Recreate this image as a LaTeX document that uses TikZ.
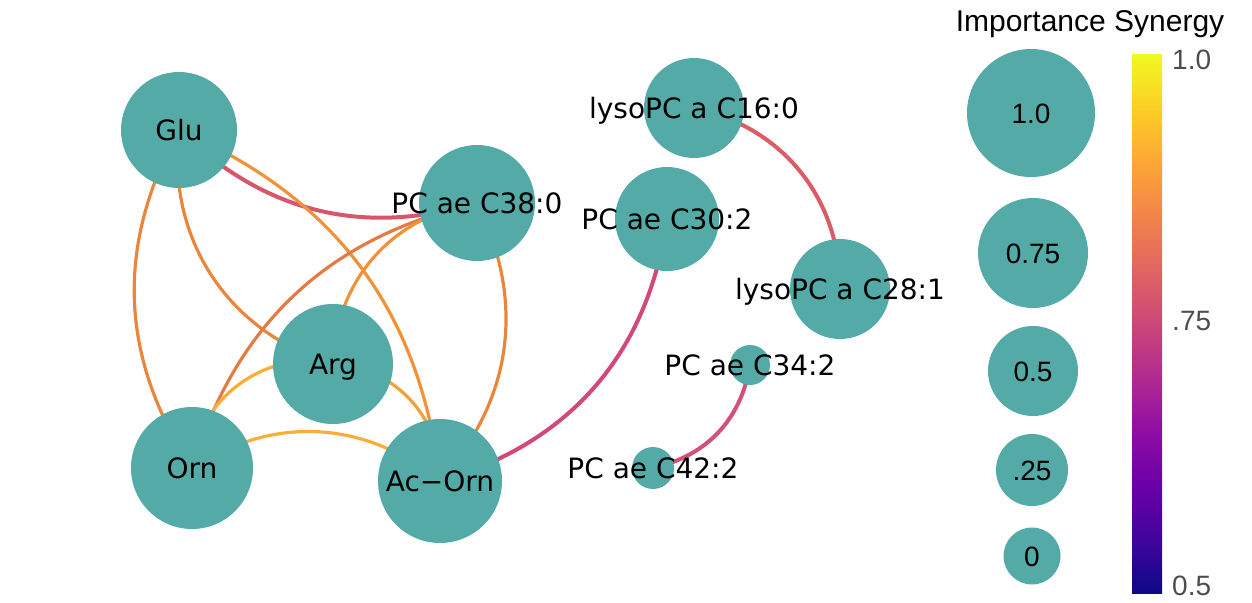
\documentclass[tikz,border=0pt]{standalone}
\usepackage{fontspec}
\setmainfont{DejaVu Sans}
\newfontfamily\legfont{Liberation Sans}
\pgfdeclarelayer{background}
\pgfsetlayers{background,main}
\definecolor{nodeteal}{RGB}{83,170,166}
\definecolor{cpink}{RGB}{214,86,108}
\definecolor{cmag}{RGB}{209,72,122}
\definecolor{cred}{RGB}{219,92,102}
\definecolor{cpink2}{RGB}{211,80,120}
\definecolor{corange}{RGB}{233,134,62}
\definecolor{corangeD}{RGB}{226,124,68}
\definecolor{corangeL}{RGB}{240,146,58}
\definecolor{cyel}{RGB}{248,174,56}
\definecolor{cyel2}{RGB}{241,160,60}
\definecolor{greytxt}{RGB}{77,77,77}
\definecolor{p0}{HTML}{0D0887}
\definecolor{p1}{HTML}{41049D}
\definecolor{p2}{HTML}{6A00A8}
\definecolor{p3}{HTML}{8F0DA4}
\definecolor{p4}{HTML}{B12A90}
\definecolor{p5}{HTML}{CC4778}
\definecolor{p6}{HTML}{E16462}
\definecolor{p7}{HTML}{F2844B}
\definecolor{p8}{HTML}{FCA636}
\definecolor{p9}{HTML}{FCCE25}
\definecolor{p10}{HTML}{F0F921}
\pgfdeclareverticalshading{plasma}{100bp}{color(0bp)=(p0); color(25bp)=(p0); color(30bp)=(p1); color(35bp)=(p2); color(40bp)=(p3); color(45bp)=(p4); color(50bp)=(p5); color(55bp)=(p6); color(60bp)=(p7); color(65bp)=(p8); color(70bp)=(p9); color(75bp)=(p10); color(100bp)=(p10)}
\tikzset{
  bubble/.style={circle, fill=nodeteal, draw=none, inner sep=0pt, minimum size=#1},
  nlabel/.style={inner sep=0pt, text height=20.4pt, text depth=0pt, font=\fontsize{28}{30}\selectfont, text=black},
  leglabel/.style={inner sep=0pt, text height=20pt, text depth=0pt, font=\legfont\fontsize{28}{30}\selectfont, text=black},
  barlabel/.style={inner sep=0pt, text height=20pt, text depth=0pt, font=\legfont\fontsize{28}{30}\selectfont, text=greytxt, anchor=west},
  legtitle/.style={inner sep=0pt, text height=21.5pt, text depth=0pt, font=\legfont\fontsize{30}{32}\selectfont, text=black},
  edgeO/.style={line width=3.2pt, draw=#1},
  edgeP/.style={line width=4pt, draw=#1}
}
\begin{document}
\begin{tikzpicture}[x=1pt,y=-1pt]
\useasboundingbox (0,0) rectangle (1252,602);
% main graph nodes
\node[bubble=116pt] (glu) at (179,130) {};
\node[bubble=116pt] (pc38) at (477,203) {};
\node[bubble=120pt] (arg) at (333,364) {};
\node[bubble=122pt] (orn) at (192,468) {};
\node[bubble=124pt] (acorn) at (440,481) {};
\node[bubble=100pt] (lyso16) at (694,108) {};
\node[bubble=104pt] (pc30) at (667,219) {};
\node[bubble=100pt] (lyso28) at (840,289) {};
\node[bubble=40pt] (pc34) at (750,365) {};
\node[bubble=42pt] (pc42) at (653,468) {};
% labels
\node[nlabel] (gluL) at (glu.center) {Glu};
\node[nlabel] (pc38L) at (pc38.center) {PC ae C38:0};
\node[nlabel] (argL) at (arg.center) {Arg};
\node[nlabel] (ornL) at (orn.center) {Orn};
\node[nlabel] (acornL) at (acorn.center) {Ac−Orn};
\node[nlabel] (lyso16L) at (lyso16.center) {lysoPC a C16:0};
\node[nlabel] (pc30L) at (pc30.center) {PC ae C30:2};
\node[nlabel] (lyso28L) at (lyso28.center) {lysoPC a C28:1};
\node[nlabel] (pc34L) at (pc34.center) {PC ae C34:2};
\node[nlabel] (pc42L) at (pc42.center) {PC ae C42:2};
% edges
\begin{pgfonlayer}{background}
\draw[edgeP=cpink] (glu.center) to[bend right=30] (pc38.center);
\draw[edgeO=corangeL] (glu.center) to[bend left=30] (acorn.center);
\draw[edgeO=corange] (glu.center) to[bend right=40] (arg.center);
\draw[edgeO=corange] (glu.center) to[bend right=31] (orn.center);
\draw[edgeO=corangeD] (pc38.center) to[bend right=30] (orn.center);
\draw[edgeO=corangeL] (pc38.center) to[bend right=40] (arg.center);
\draw[edgeO=corange] (pc38.center) to[bend left=34] (acorn.center);
\draw[edgeO=cyel] (arg.center) to[bend right=50] (orn.center);
\draw[edgeO=cyel2] (arg.center) to[bend left=45] (acorn.center);
\draw[edgeO=cyel] (orn.center) to[bend left=36] (acorn.center);
\draw[edgeP=cmag] (acorn.center) to[bend right=33] (pc30.center);
\draw[edgeP=cred] (lyso16.center) to[bend left=39] (lyso28.center);
\draw[edgeP=cpink2] (pc34.center) to[bend left=34] (pc42.center);
\end{pgfonlayer}
% legend
\node[legtitle] (title) at (1090,21) {Importance Synergy};
\node[bubble=128pt, leglabel] (l100) at (1031,113) {1.0};
\node[bubble=110pt, leglabel] (l075) at (1033,253) {0.75};
\node[bubble=90pt, leglabel] (l050) at (1033,371) {0.5};
\node[bubble=72pt, leglabel] (l025) at (1032,470) {.25};
\node[bubble=57pt, leglabel] (l000) at (1032,556) {0};
% colour bar
\shade[shading=plasma] (1132,55) rectangle (1162,593);
\node[barlabel] (b10) at (1172,60) {1.0};
\node[barlabel] (b75) at (1172,320) {.75};
\node[barlabel] (b05) at (1172,585) {0.5};
\end{tikzpicture}
\end{document}
